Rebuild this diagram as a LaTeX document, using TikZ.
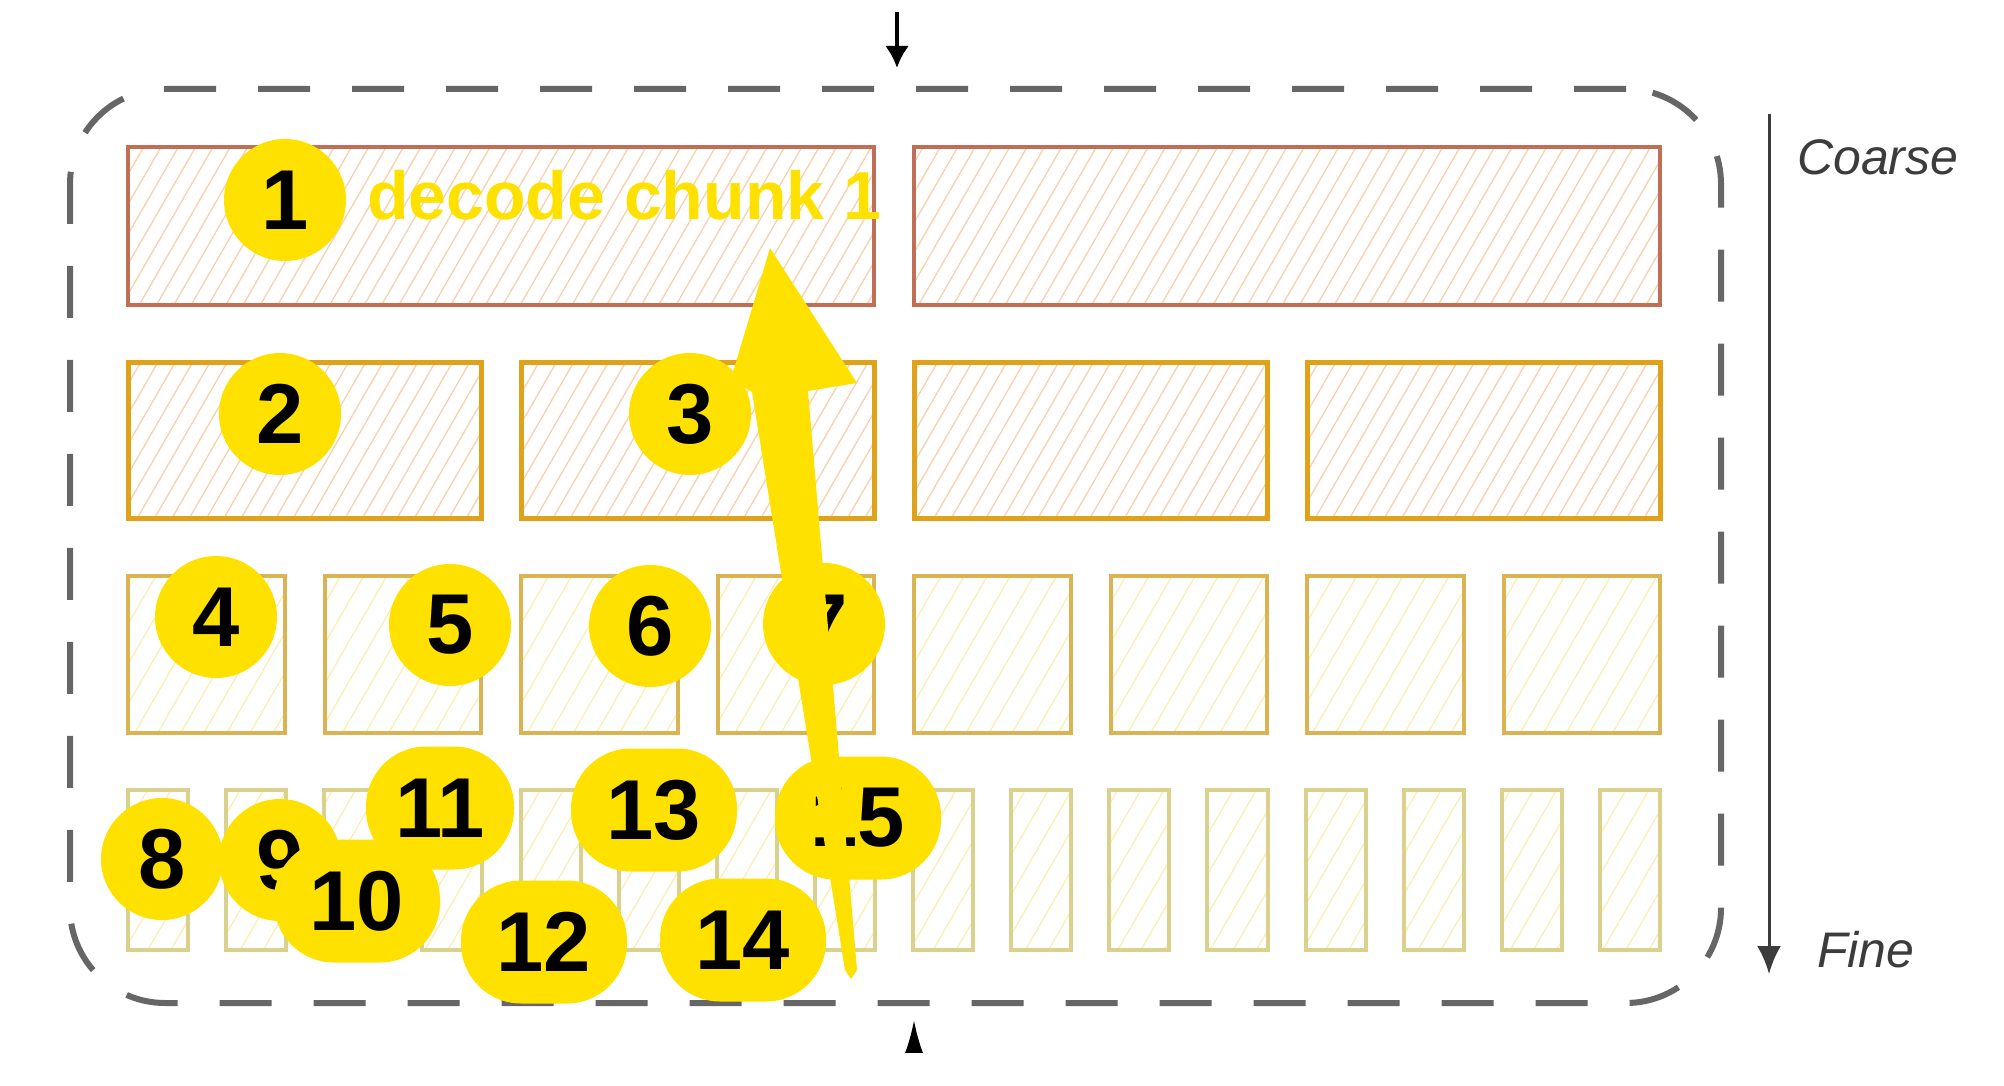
\documentclass[tikz,border=0pt]{standalone}
\usepackage{fontspec}
\setmainfont{Liberation Sans}
\usetikzlibrary{patterns.meta,arrows.meta}
\definecolor{brick}{RGB}{192,110,86}
\definecolor{amber}{RGB}{224,162,24}
\definecolor{ochre}{RGB}{218,180,82}
\definecolor{khaki}{RGB}{218,210,140}
\definecolor{peach}{RGB}{248,208,172}
\definecolor{cream}{RGB}{250,238,180}
\definecolor{marker}{RGB}{255,225,0}
\definecolor{framegray}{RGB}{102,102,102}
\definecolor{ink}{RGB}{60,60,60}

\begin{document}
\begin{tikzpicture}[x=1pt,y=-1pt]
    \tikzstyle{chunk}=[draw, inner sep=0pt, line width=4pt]
    \tikzstyle{lvlone}=[chunk, draw=brick, minimum width=746pt, minimum height=158pt,
        pattern={Lines[angle=60,distance=15pt,line width=1.3pt]}, pattern color=peach]
    \tikzstyle{lvltwo}=[chunk, draw=amber, line width=5pt, minimum width=353pt, minimum height=156pt,
        pattern={Lines[angle=60,distance=15pt,line width=1.3pt]}, pattern color=peach]
    \tikzstyle{lvlthree}=[chunk, draw=ochre, minimum width=156.5pt, minimum height=157pt,
        pattern={Lines[angle=60,distance=20pt,line width=1.3pt]}, pattern color=cream]
    \tikzstyle{lvlfour}=[chunk, draw=khaki, minimum width=60.1pt, minimum height=160pt,
        pattern={Lines[angle=60,distance=20pt,line width=1.3pt]}, pattern color=cream]
    \tikzstyle{frame}=[draw=framegray, line width=6pt, dash pattern=on 52pt off 42pt,
        rounded corners=95pt, minimum width=1651pt, minimum height=914pt]
    \tikzstyle{badge}=[circle, fill=marker, inner sep=0pt, minimum size=122pt,
        font=\fontsize{85}{85}\selectfont\bfseries]
    \tikzstyle{wide}=[rectangle, rounded corners=60pt, fill=marker, inner sep=0pt,
        minimum width=166pt, minimum height=123pt, font=\fontsize{85}{85}\selectfont\bfseries]
    \tikzstyle{pointer}=[black, line width=4pt, -{Latex[length=22pt,width=24pt]}]
    \tikzstyle{axis}=[ink, line width=3pt, -{Latex[length=28pt,width=24pt]}]
    \tikzstyle{side}=[ink, inner sep=0pt, anchor=base west, font=\fontsize{50}{50}\selectfont\itshape]

    \useasboundingbox (0,0) rectangle (2004,1086);

    % chunks, coarse to fine
    \foreach \i in {0,1} \node[lvlone] (one\i) at ({501+\i*786},226) {};
    \foreach \i in {0,...,3} \node[lvltwo] (two\i) at ({304.5+\i*393},440) {};
    \foreach \i in {0,...,7} \node[lvlthree] (three\i) at ({206.25+\i*196.5},654.5) {};
    \foreach \i in {0,...,15} \node[lvlfour] (four\i) at ({158.05+\i*98.13},870) {};

    \node[frame] (frame) at (895.5,546) {};

    % in / out
    \coordinate (inTail) at (897,12);
    \coordinate (inHead) at (897,68);
    \draw[pointer] (inTail) -- (inHead);
    \begin{scope}
        \clip (0,0) rectangle (2004,1052);
        \coordinate (outTail) at (914,1080);
        \coordinate (outHead) at (914,1020);
        \draw[pointer, -{Latex[length=40pt,width=24pt]}] (outTail) -- (outHead);
    \end{scope}

    % coarse -> fine
    \coordinate (axisTop) at (1769,114);
    \coordinate (axisBot) at (1769,974);
    \draw[axis] (axisTop) -- (axisBot);
    \node[side] (coarse) at (1797,175) {Coarse};
    \node[side] (fine) at (1817,967) {Fine};

    % decode order
    \node[badge] (n1) at (285,200) {1};
    \node[marker, inner sep=0pt, anchor=base west, font=\fontsize{68}{68}\selectfont\bfseries]
        (dec) at (367,219) {decode chunk 1};
    \node[badge] (n2) at (280,414) {2};
    \node[badge] (n3) at (690,414) {3};
    \node[badge] (n4) at (216,617) {4};
    \node[badge] (n5) at (450,625) {5};
    \node[badge] (n6) at (650,626) {6};
    \node[badge] (n7) at (824,624) {7};
    \node[badge] (n8) at (162,859) {8};
    \node[badge] (n9) at (280,860) {9};
    \node[wide] (n10) at (357,901) {10};
    \node[wide, minimum width=148pt] (n11) at (440,808) {11};
    \node[wide] (n12) at (544,942) {12};
    \node[wide] (n13) at (654,810) {13};
    \node[wide] (n14) at (743,940) {14};
    \node[wide] (n15) at (858,818) {15};

    % big arrow back up
    \fill[marker] (770,248) -- (857,383) -- (808,391) -- (857,970) -- (851,979)
        -- (845,970) -- (752,392) -- (731,379) -- cycle;
\end{tikzpicture}
\end{document}
